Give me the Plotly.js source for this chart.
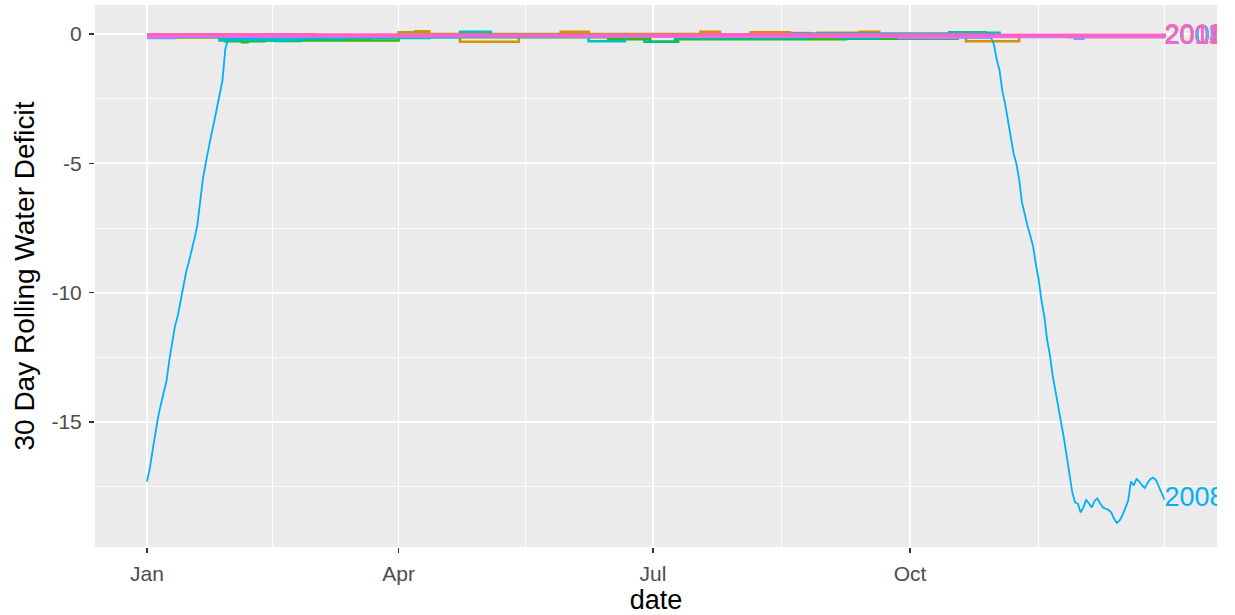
<!DOCTYPE html>
<html>
<head>
<meta charset="utf-8">
<script src="https://cdn.plot.ly/plotly-3.0.1.min.js"></script>
<style>html,body{margin:0;padding:0;background:#fff;}#chart{width:1235px;height:615px;}</style>
</head>
<body>
<div id="chart"></div>
<script>
// ---- data (x = day of year, 0 = Jan 1) ----
const years = ['2002','2003','2004','2005','2006','2007','2008','2009','2010','2011'];
const colors = ['#F8766D','#D89000','#A3A500','#39B600','#00BF7D','#00BFC4','#00B0F6','#9590FF','#E76BF3','#FF62BC'];

const days2002 = [0, 216, 237, 250, 330, 364];
const vals2002 = [-0.10, 0.04, -0.15, -0.10, -0.12, -0.13];

const days2003 = [0, 71, 80, 96, 101, 112, 133, 148, 158, 198, 205, 216, 230, 255, 262, 293, 312, 364];
const vals2003 = [-0.12, -0.18, -0.10, 0.10, -0.05, -0.30, -0.10, 0.08, -0.08, 0.08, -0.05, 0.06, -0.05, 0.08, -0.10, -0.28, -0.10, -0.12];

const days2004 = [0, 80, 90, 100, 200, 240, 260, 364];
const vals2004 = [-0.10, -0.13, 0.06, 0.00, -0.08, 0.05, -0.10, -0.12];

const days2005 = [0, 28, 34, 36, 42, 90, 165, 180, 190, 250, 290, 330, 364];
const vals2005 = [-0.12, -0.28, -0.32, -0.28, -0.25, -0.12, -0.20, -0.30, -0.20, -0.18, -0.05, -0.10, -0.12];

const days2006 = [0, 26, 46, 55, 71, 178, 189, 237, 248, 262, 287, 300, 364];
const vals2006 = [-0.10, -0.25, -0.27, -0.20, -0.10, -0.30, -0.18, -0.05, -0.18, -0.10, 0.06, -0.10, -0.12];

const days2007 = [0, 26, 55, 101, 112, 123, 158, 171, 230, 287, 305, 364];
const vals2007 = [-0.10, -0.22, -0.15, -0.12, 0.08, -0.10, -0.28, -0.10, 0.02, 0.05, -0.10, -0.13];

const days2008 = [0,1,2,3,4,5,6,7,8,9,10,11,12,13,14,15,16,17,18,19,20,21,22,23,24,25,26,27,28,29,
  40,100,200,302,
  303,304,305,306,307,308,309,310,311,312,313,314,315,316,317,318,319,320,321,322,323,324,325,326,327,328,329,330,
  331,332,333,334,335,336,337,338,339,340,341,342,343,344,345,346,347,348,349,350,351,352,353,354,355,356,357,358,
  359,360,361,362,363,364];
const vals2008 = [-17.3,-16.8,-16.1,-15.4,-14.8,-14.3,-13.8,-13.4,-12.6,-12.0,-11.3,-10.9,-10.3,-9.8,-9.2,-8.8,-8.4,-7.9,-7.4,-6.4,
  -5.6,-5.0,-4.4,-3.9,-3.4,-2.9,-2.4,-1.8,-0.6,-0.2,
  -0.15,-0.12,-0.10,-0.15,
  -0.4,-1.0,-1.4,-2.2,-2.7,-3.3,-4.0,-4.6,-5.0,-5.6,-6.5,-7.0,-7.4,-7.8,-8.2,-8.9,-9.5,-10.3,-10.9,-11.8,-12.4,-13.2,
  -13.8,-14.4,-14.9,-15.6,-16.3,-17.1,
  -17.7,-18.1,-18.15,-18.5,-18.3,-18.0,-18.15,-18.3,-18.05,-17.95,-18.15,-18.3,-18.35,-18.4,-18.5,-18.75,-18.9,-18.8,
  -18.6,-18.35,-18.05,-17.3,-17.45,-17.2,-17.3,-17.45,-17.55,-17.35,
  -17.2,-17.15,-17.25,-17.5,-17.75,-18.0];

const days2009 = [0, 10, 150, 269, 290, 332, 335, 364];
const vals2009 = [-0.15, -0.08, -0.10, -0.15, -0.10, -0.18, -0.10, -0.14];

const days2010 = [0, 100, 180, 280, 330, 364];
const vals2010 = [-0.08, -0.07, -0.09, -0.10, -0.08, -0.12];

const days2011 = [0, 60, 120, 200, 260, 300, 364];
const vals2011 = [-0.02, -0.03, -0.04, -0.02, -0.03, -0.04, -0.08];

const xTickVals = [0, 90, 181, 273];
const xTickText = ['Jan', 'Apr', 'Jul', 'Oct'];
const xMinorVals = [45, 135.5, 227, 319, 364];
const yTickVals = [0, -5, -10, -15];
const yMinorVals = [-2.5, -7.5, -12.5, -17.5];

// ---- build ----
const series = {
  '2002': [days2002, vals2002], '2003': [days2003, vals2003], '2004': [days2004, vals2004],
  '2005': [days2005, vals2005], '2006': [days2006, vals2006], '2007': [days2007, vals2007],
  '2008': [days2008, vals2008], '2009': [days2009, vals2009], '2010': [days2010, vals2010],
  '2011': [days2011, vals2011]
};
const FONT = 'Liberation Sans, Arial, sans-serif';
const traces = [];
years.forEach((yr, i) => {
  const [d, v] = series[yr];
  const is08 = yr === '2008';
  const w = is08 ? 1.8 : ((yr === '2010' || yr === '2011') ? 3.2 : 2.6);
  traces.push({
    x: d, y: v, type: 'scatter', mode: 'lines', name: yr,
    line: {color: colors[i], width: w, shape: is08 ? 'linear' : 'hv'},
    hoverinfo: 'skip', showlegend: false
  });
});
years.forEach((yr, i) => {
  const [d, v] = series[yr];
  traces.push({
    x: [d[d.length - 1]], y: [v[v.length - 1]], type: 'scatter', mode: 'text',
    text: [yr], textposition: 'middle right', cliponaxis: true,
    textfont: {family: FONT, size: 27, color: colors[i]},
    hoverinfo: 'skip', showlegend: false
  });
});

const layout = {
  width: 1235, height: 615,
  margin: {l: 95, r: 18, t: 5, b: 68},
  paper_bgcolor: '#FFFFFF', plot_bgcolor: '#EBEBEB',
  font: {family: FONT, color: '#4D4D4D'},
  xaxis: {
    range: [-18.6, 382.8], zeroline: false, showline: false,
    tickmode: 'array', tickvals: xTickVals, ticktext: xTickText,
    ticks: 'outside', ticklen: 5, tickwidth: 1.2, tickcolor: '#333333',
    ticklabelstandoff: 3,
    tickfont: {family: FONT, size: 21, color: '#4D4D4D'},
    showgrid: true, gridcolor: '#FFFFFF', gridwidth: 1.8,
    minor: {tickmode: 'array', tickvals: xMinorVals, showgrid: true, gridcolor: '#FFFFFF', gridwidth: 0.9, ticks: ''},
    title: {text: 'date', font: {family: FONT, size: 27, color: '#000000'}, standoff: 16}
  },
  yaxis: {
    range: [-19.83, 1.12], zeroline: false, showline: false,
    tickmode: 'array', tickvals: yTickVals, ticktext: ['0', '-5', '-10', '-15'],
    ticks: 'outside', ticklen: 5, tickwidth: 1.2, tickcolor: '#333333',
    ticklabelstandoff: 3,
    tickfont: {family: FONT, size: 21, color: '#4D4D4D'},
    showgrid: true, gridcolor: '#FFFFFF', gridwidth: 1.8,
    minor: {tickmode: 'array', tickvals: yMinorVals, showgrid: true, gridcolor: '#FFFFFF', gridwidth: 0.9, ticks: ''},
    title: {text: '30 Day Rolling Water Deficit', font: {family: FONT, size: 28, color: '#000000'}, standoff: 8}
  }
};

Plotly.newPlot('chart', traces, layout, {staticPlot: true, displayModeBar: false});
</script>
</body>
</html>
